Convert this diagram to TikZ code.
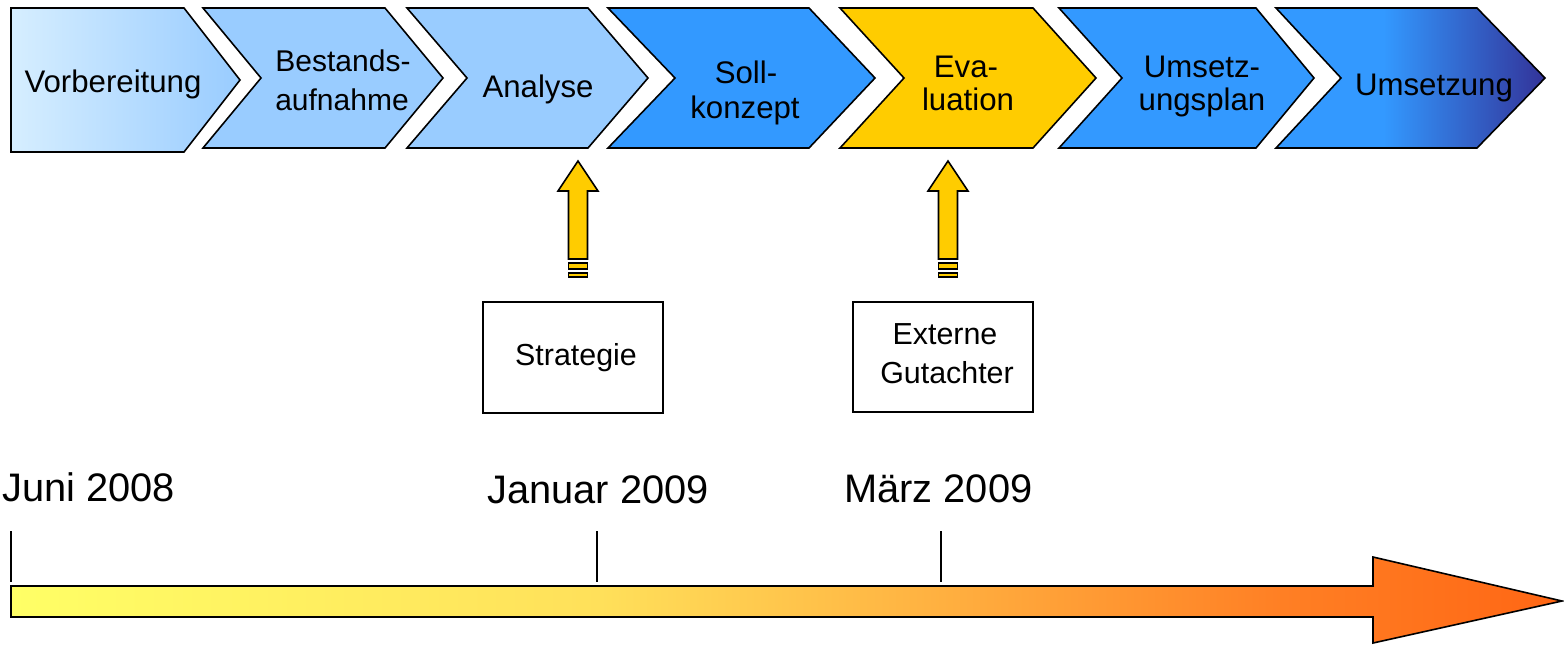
\documentclass[tikz,border=0pt]{standalone}
\usepackage{fontspec}
\setmainfont{Liberation Sans}
\definecolor{lblue}{HTML}{99CCFF}
\definecolor{vlblue}{HTML}{D6EEFF}
\definecolor{mblue}{HTML}{3399FF}
\definecolor{navyc}{HTML}{333399}
\definecolor{goldc}{HTML}{FFCC00}
\definecolor{tA}{HTML}{FFFF66}
\definecolor{tB}{HTML}{FFE05A}
\definecolor{tC}{HTML}{FFB040}
\definecolor{tD}{HTML}{FF7F24}
\definecolor{tE}{HTML}{FF6614}
\pgfdeclarehorizontalshading{umsetzshade}{100bp}{color(0bp)=(mblue); color(25bp)=(mblue); color(45bp)=(mblue); color(75bp)=(navyc); color(100bp)=(navyc)}
\pgfdeclarehorizontalshading{timeshade}{100bp}{color(0bp)=(tA); color(25bp)=(tA); color(44bp)=(tB); color(55bp)=(tC); color(66bp)=(tD); color(75bp)=(tE); color(100bp)=(tE)}
\tikzset{
  chev/.style={draw=black, line width=0.8pt, line join=miter},
  ctext/.style={font=\fontsize{15.6}{18}\selectfont, anchor=base, inner sep=0pt},
  btext/.style={font=\fontsize{15.2}{18}\selectfont, anchor=base, inner sep=0pt},
  datetext/.style={font=\fontsize{19.9}{24}\selectfont, anchor=base west, inner sep=0pt},
  boxnode/.style={draw=black, line width=0.8pt, fill=white, inner sep=0pt},
  tickline/.style={line width=1pt},
  yarrow/.pic={
    \draw[chev, fill=goldc] (-9.5,-18) -- (-9.5,-86) -- (-20,-86) -- (0,-116) -- (20,-86) -- (9.5,-86) -- (9.5,-18) -- cycle;
    \draw[chev, fill=goldc] (-9.5,-14) rectangle (9.5,-8);
    \draw[chev, fill=goldc] (-9.5,-4) rectangle (9.5,0);
  }
}
\begin{document}
\begin{tikzpicture}[x=0.5pt, y=-0.5pt]
\useasboundingbox (0,0) rectangle (1564,644);
% chevrons
\draw[chev, left color=vlblue, right color=lblue] (11,8) -- (184,8) -- (240,80) -- (184,152) -- (11,152) -- cycle;
\draw[chev, fill=lblue] (203,8) -- (385,8) -- (443,78) -- (385,148) -- (203,148) -- (261,78) -- cycle;
\draw[chev, fill=lblue] (407,8) -- (588,8) -- (648,78) -- (588,148) -- (407,148) -- (467,78) -- cycle;
\draw[chev, fill=mblue] (608,8) -- (809,8) -- (875,78) -- (809,148) -- (608,148) -- (675,78) -- cycle;
\draw[chev, fill=goldc] (840,8) -- (1033,8) -- (1096,78) -- (1033,148) -- (840,148) -- (904,78) -- cycle;
\draw[chev, fill=mblue] (1059,8) -- (1256,8) -- (1314,78) -- (1256,148) -- (1059,148) -- (1122,78) -- cycle;
\draw[chev, shading=umsetzshade] (1276,8) -- (1477,8) -- (1545,78) -- (1477,148) -- (1276,148) -- (1341,78) -- cycle;
% chevron texts
\node[ctext] (vorb) at (113,92) {Vorbereitung};
\node[ctext, font=\fontsize{15}{17}\selectfont] (best1) at (343,71) {Bestands-};
\node[ctext, font=\fontsize{15}{17}\selectfont] (best2) at (342,110) {aufnahme};
\node[ctext] (anal) at (538,97) {Analyse};
\node[ctext] (soll1) at (746,83) {Soll-};
\node[ctext] (soll2) at (745,118) {konzept};
\node[ctext] (eval1) at (966,77) {Eva-};
\node[ctext] (eval2) at (968,110) {luation};
\node[ctext] (ump1) at (1202,77) {Umsetz-};
\node[ctext] (ump2) at (1202,110) {ungsplan};
\node[ctext] (ums) at (1434,95) {Umsetzung};
% boxes
\node[boxnode, minimum width=90pt, minimum height=55.5pt] (strat) at (573,357.5) {};
\node[btext] (strattext) at (576,365) {Strategie};
\node[boxnode, minimum width=90pt, minimum height=55pt] (extern) at (943,357) {};
\node[btext] (ext1) at (945,344) {Externe};
\node[btext] (ext2) at (947,383) {Gutachter};
% yellow arrows
\pic at (578,277) {yarrow};
\pic at (948,277) {yarrow};
% dates
\node[datetext] (juni) at (2,501) {Juni 2008};
\node[datetext] (jan) at (487,503) {Januar 2009};
\node[datetext] (maerz) at (844,502) {März 2009};
% ticks
\coordinate (t1a) at (11,531); \coordinate (t1b) at (11,582);
\coordinate (t2a) at (597,531); \coordinate (t2b) at (597,582);
\coordinate (t3a) at (941,531); \coordinate (t3b) at (941,582);
\draw[tickline] (t1a) -- (t1b);
\draw[tickline] (t2a) -- (t2b);
\draw[tickline] (t3a) -- (t3b);
% time arrow
\draw[chev, shading=timeshade] (11,586) -- (1373,586) -- (1373,557) -- (1562,601) -- (1373,643) -- (1373,617) -- (11,617) -- cycle;
\end{tikzpicture}
\end{document}
